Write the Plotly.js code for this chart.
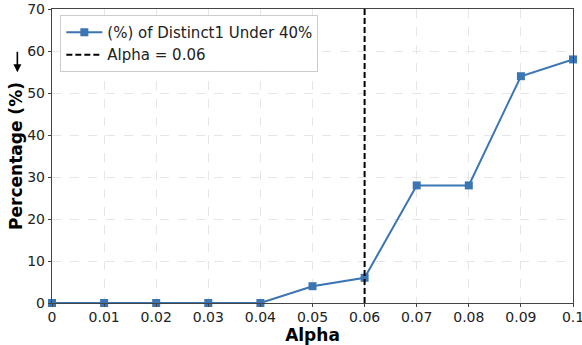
<!DOCTYPE html>
<html><head><meta charset="utf-8">
<script src="https://cdn.plot.ly/plotly-3.0.1.min.js"></script>
<style>html,body{margin:0;padding:0;background:#fff;}#chart{width:582px;height:345px;}</style>
</head><body><div id="chart"></div>
<script>
const alphas = [0, 0.01, 0.02, 0.03, 0.04, 0.05, 0.06, 0.07, 0.08, 0.09, 0.1];
const percentages = [0, 0, 0, 0, 0, 4, 6, 28, 28, 54, 58];
const alphaLine = 0.06;
const tickVals = [0, 0.01, 0.02, 0.03, 0.04, 0.05, 0.06, 0.07, 0.08, 0.09, 0.1];
const tickText = ['0', '0.01', '0.02', '0.03', '0.04', '0.05', '0.06', '0.07', '0.08', '0.09', '0.1'];
const seriesName = '(%) of Distinct1 Under 40%';
const lineName = 'Alpha = 0.06';

const font = 'DejaVu Sans, sans-serif';
const traces = [
  {x: alphas, y: percentages, mode: 'lines+markers', name: seriesName, cliponaxis: false,
   line: {color: '#3b75b3', width: 2}, marker: {symbol: 'square', size: 8, color: '#3b75b3'}},
  {x: [alphaLine, alphaLine], y: [0, 70], mode: 'lines', name: lineName,
   line: {color: '#000', width: 2, dash: '6px,3px'}}
];
const layout = {
  width: 582, height: 345,
  margin: {l: 52, r: 9, t: 9, b: 42},
  paper_bgcolor: '#fff', plot_bgcolor: '#fff',
  font: {family: font, color: '#222', size: 14},
  showlegend: true,
  legend: {x: 0.016, y: 0.98, xanchor: 'left', yanchor: 'top',
           bgcolor: 'rgba(255,255,255,0.9)', bordercolor: '#ccc', borderwidth: 1,
           font: {family: font, size: 15, color: '#222'}, tracegroupgap: 0, itemwidth: 36},
  xaxis: {range: [0, 0.1], tickvals: tickVals, ticktext: tickText,
          showline: true, linecolor: '#444', linewidth: 1.2, mirror: true,
          ticks: 'outside', ticklen: 3, tickcolor: '#444', ticklabeloverflow: 'allow',
          ticklabelstandoff: -2,
          showgrid: true, gridcolor: '#e6e6e6', griddash: 'dash', zeroline: false,
          title: {text: '<b>Alpha</b>', font: {family: font, size: 17, color: '#000'}, standoff: 0},
          tickfont: {family: font, size: 14, color: '#222'}},
  yaxis: {range: [0, 70], dtick: 10,
          showline: true, linecolor: '#444', linewidth: 1.2, mirror: true,
          ticks: 'outside', ticklen: 3, tickcolor: '#444',
          showgrid: true, gridcolor: '#e6e6e6', griddash: 'dash', zeroline: false,
          title: {text: '<b>Percentage (%)</b>', font: {family: font, size: 17, color: '#000'}, standoff: 0},
          tickfont: {family: font, size: 14, color: '#222'}},
  annotations: [{xref: 'paper', yref: 'paper', x: -0.0665, y: 0.785, ax: 0, ay: -22,
                 axref: 'pixel', ayref: 'pixel', showarrow: true, arrowhead: 2, arrowsize: 1,
                 arrowwidth: 1.6, arrowcolor: '#000', text: ''}]
};
Plotly.newPlot('chart', traces, layout, {staticPlot: true, displayModeBar: false});
</script></body></html>
